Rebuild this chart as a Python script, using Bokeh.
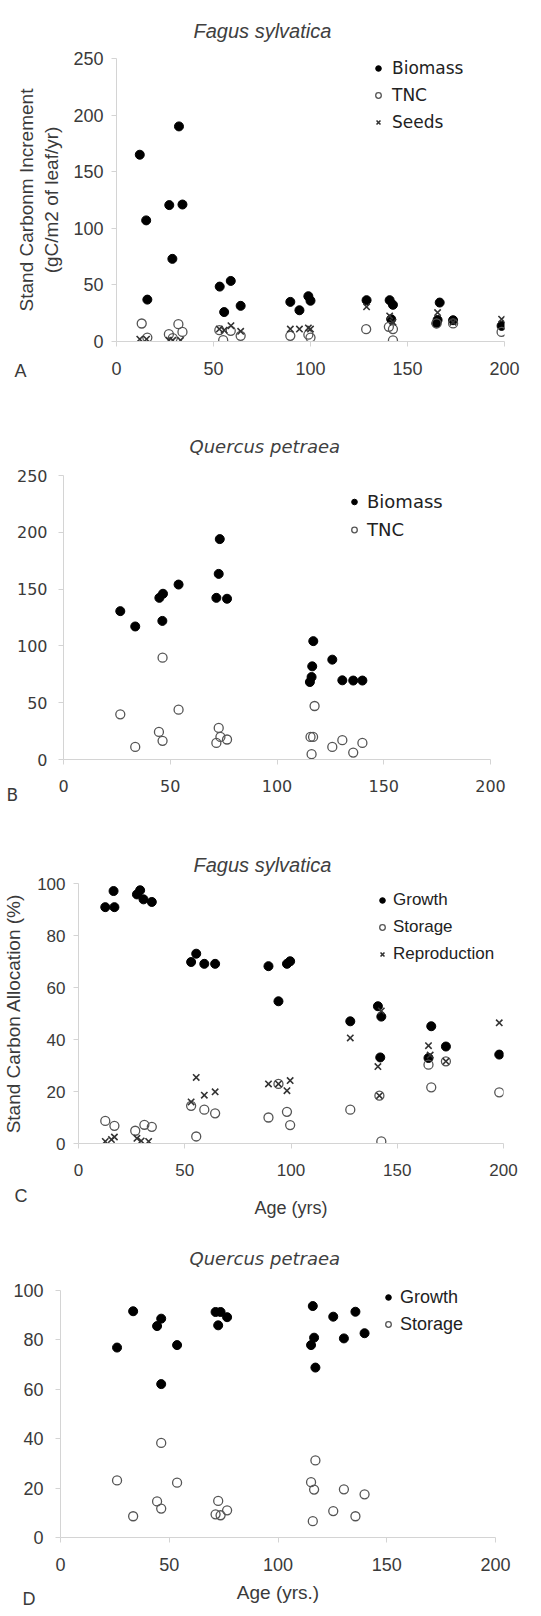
from bokeh.plotting import figure
from bokeh.models import Range1d, FixedTicker, Legend, LegendItem, Title
from bokeh.embed import file_html
from bokeh.resources import INLINE

# ---------------- DATA ----------------
# Panel A: Fagus sylvatica, stand carbon increment (gC/m2 of leaf/yr)
a_bio_age = [12, 15.3, 15.9, 27.2, 28.8, 32.2, 34, 53.2, 55.5, 58.9, 64, 89.6, 94.3, 98.9, 100,
             128.9, 140.8, 142.5, 141.6, 164.9, 165.5, 166.6, 173.5, 198.5]
a_bio_val = [165, 107, 37, 120.5, 73, 190, 121, 48.5, 26, 53.5, 31.5, 35, 27.6, 40, 36,
             36.5, 36.5, 32.4, 19.7, 16, 19, 34.4, 18.8, 13.8]
a_tnc_age = [13, 15.9, 27, 29, 31.9, 34, 53, 55, 58.9, 64, 89.6, 98.9, 100, 128.7, 140.4,
             142.5, 142.5, 165, 173.5, 198.5]
a_tnc_val = [15.9, 3.5, 6.5, 3, 15.3, 8.5, 10, 1.2, 9.4, 5, 5, 6, 3.5, 10.9, 13,
             11, 1, 16, 16, 8.5]
a_seed_age = [12, 15.5, 27, 29, 33, 53, 55.5, 59, 64, 89.6, 94.3, 98.9, 100, 128.9, 140.8,
              142.5, 165.5, 173.5, 198.5]
a_seed_val = [2, 2, 1, 1, 1, 11, 10, 14, 9, 11, 11, 12, 11, 30.6, 22.6,
              17, 25.6, 17, 19.7]

# Panel B: Quercus petraea, stand carbon increment
b_bio_age = [26.6, 33.6, 44.9, 46.6, 46.3, 53.9, 73.2, 72.7, 71.6, 76.6, 117, 116.5, 116.2,
             115.4, 125.9, 130.6, 135.7, 140]
b_bio_val = [130.6, 117.1, 142.3, 145.9, 122, 154, 194, 163.4, 142.3, 141.5, 104.2, 82, 72.6,
             68.2, 87.9, 69.7, 69.5, 69.5]
b_tnc_age = [26.6, 33.6, 44.7, 46.4, 46.4, 53.9, 72.7, 71.6, 73.5, 76.6, 115.7, 116.9, 117.6,
             116.2, 125.9, 130.6, 135.7, 140]
b_tnc_val = [39.8, 11.1, 24.3, 89.6, 16.4, 43.9, 27.8, 14.6, 19.9, 17.6, 19.9, 19.9, 47.1,
             4.7, 11.1, 17, 6.1, 14.6]

# Panel C: Fagus sylvatica, stand carbon allocation (%)
c_gro_age = [12.6, 16.9, 16.5, 27.5, 29, 30.6, 34.5, 53, 55.4, 59.2, 64.3, 89.4, 94.1, 98.1,
             99.6, 127.9, 140.9, 142.5, 142, 164.7, 166, 172.9, 198]
c_gro_val = [90.9, 90.9, 97.1, 95.8, 97.4, 93.9, 92.9, 69.8, 73, 69.1, 69.1, 68.2, 54.7, 69.1,
             70.1, 47, 52.8, 48.8, 33.1, 32.9, 45.1, 37.3, 34.2]
c_sto_age = [12.6, 16.9, 26.7, 31, 34.5, 53, 55.4, 59.2, 64.3, 89.4, 94.1, 98.1, 99.6, 127.9,
             141.6, 142.5, 164.7, 166, 172.9, 198]
c_sto_val = [8.7, 6.8, 4.9, 7.2, 6.4, 14.5, 2.7, 13, 11.6, 10, 22.9, 12.2, 7.1, 13,
             18.4, 0.8, 30.3, 21.6, 31.6, 19.7]
c_rep_age = [12.6, 15.5, 16.9, 27.5, 29.5, 33, 53, 55.4, 59.2, 64.3, 89.4, 94.1, 98.1, 99.6,
             127.9, 140.9, 141.6, 142.5, 164.7, 165.5, 172.9, 198]
c_rep_val = [0.8, 1.5, 2.5, 2, 1, 0.8, 16, 25.4, 18.6, 19.9, 22.9, 22.9, 20.3, 24.2,
             40.6, 29.6, 18.4, 51, 37.6, 34, 31.6, 46.4]

# Panel D: Quercus petraea, stand carbon allocation (%)
d_gro_age = [26, 33.4, 44.4, 46.3, 46.3, 53.6, 71.3, 73.6, 72.5, 76.6, 116, 116.6, 115.2,
             117.2, 125.4, 130.3, 135.6, 139.8]
d_gro_val = [76.9, 91.6, 85.6, 88.6, 62.1, 77.9, 91.3, 91.3, 85.9, 89.2, 93.7, 80.9, 77.9,
             68.8, 89.4, 80.6, 91.4, 82.7]
d_sto_age = [26, 33.4, 44.4, 46.3, 46.3, 53.6, 72.5, 71.3, 73.6, 76.6, 115.2, 116.6, 117.2,
             116, 125.4, 130.3, 135.6, 139.8]
d_sto_val = [23.1, 8.6, 14.6, 38.3, 11.7, 22.2, 14.8, 9.4, 9, 11, 22.4, 19.4, 31.2,
             6.6, 10.7, 19.5, 8.6, 17.5]

x_ticks = [0, 50, 100, 150, 200]
y_ticks_inc = [0, 50, 100, 150, 200, 250]
y_ticks_pct = [0, 20, 40, 60, 80, 100]

# ---------------- LAYOUT ----------------
W = 541
SANS = "Liberation Sans"
DV = "DejaVu Sans"
TXT = "#3a3a3a"
AX = "#d4d4d4"


def make_panel(g):
    p = figure(width=W, height=g["h"], x_range=Range1d(0, 200), y_range=Range1d(0, g["ymax"]),
               output_backend="svg", toolbar_location=None,
               min_border_left=g["fx"], min_border_right=W - g["fx"] - g["fw"],
               min_border_top=g["fy"] - g["top"],
               min_border_bottom=g["top"] + g["h"] - (g["fy"] + g["fh"]))
    p.outline_line_color = None
    p.xgrid.visible = False
    p.ygrid.visible = False
    p.background_fill_color = "white"
    p.border_fill_color = "white"
    for ax, ticks, st in ((p.xaxis[0], x_ticks, g["xst"]), (p.yaxis[0], g["yticks"], g["yst"])):
        ax.ticker = FixedTicker(ticks=ticks)
        ax.minor_tick_line_color = None
        ax.axis_line_color = AX
        ax.major_tick_line_color = AX
        ax.major_tick_out = 5
        ax.major_tick_in = 0
        ax.major_label_text_font = g["tfont"]
        ax.major_label_text_font_size = g["tsize"]
        ax.major_label_text_color = TXT
        ax.major_label_standoff = st
        ax.axis_label_text_font = SANS
        ax.axis_label_text_font_style = "normal"
        ax.axis_label_text_color = TXT
    return p


def add_title(p, text, font, size, offset, standoff):
    p.add_layout(Title(text=text, align="left", offset=offset, standoff=standoff,
                       text_font=font, text_font_size=size, text_font_style="italic",
                       text_color="#404040"), "above")


def add_letter(p, text, font, size, offset, standoff):
    p.add_layout(Title(text=text, align="left", vertical_align="top", offset=offset,
                       standoff=standoff, text_font=font, text_font_size=size,
                       text_font_style="normal", text_color=TXT), "below")


def add_legend(p, g, items, gx, lx, ry, pitch, font, size):
    gw, gh = 14, pitch - 3
    box_left = gx - gw / 2
    box_top = ry - gh / 2
    n = len(items)
    box_h = n * gh + (n - 1) * 3
    leg = Legend(items=[LegendItem(label=l, renderers=[r]) for l, r in items],
                 location=(box_left - g["fx"], g["fy"] + g["fh"] - (box_top + box_h)),
                 padding=0, margin=0, spacing=3, glyph_width=gw, glyph_height=gh,
                 label_height=gh, label_standoff=int(round(lx - (box_left + gw))),
                 label_text_font=font, label_text_font_size=size, label_text_color="#222222",
                 border_line_color=None, background_fill_alpha=0)
    p.add_layout(leg)


def filled(p, xs, ys):
    return p.scatter(xs, ys, marker="circle", size=9, fill_color="black", line_color="black")


def hollow(p, xs, ys):
    return p.scatter(xs, ys, marker="circle", size=9, fill_color=None, line_color="#555555",
                     line_width=1.3)


def cross(p, xs, ys):
    return p.scatter(xs, ys, marker="x", size=9, line_color="#333333", line_width=1.6)


# Panel A
gA = dict(top=0, h=400, fx=116, fy=57, fw=388, fh=284, ymax=250, yticks=y_ticks_inc,
          tfont=SANS, tsize="18px", xst=15, yst=8)
pA = make_panel(gA)
pA.yaxis[0].axis_label = "Stand Carbonm Increment\n(gC/m2 of leaf/yr)"
pA.yaxis[0].axis_label_text_font_size = "19px"
pA.yaxis[0].axis_label_standoff = 8
rA1 = filled(pA, a_bio_age, a_bio_val)
rA2 = hollow(pA, a_tnc_age, a_tnc_val)
rA3 = cross(pA, a_seed_age, a_seed_val)
add_legend(pA, gA, [("Biomass", rA1), ("TNC", rA2), ("Seeds", rA3)], 378, 392, 68, 27, DV, "17px")
add_title(pA, "Fagus sylvatica", SANS, "20px", 77, 34)
add_letter(pA, "A", SANS, "18px", -102, -34)

# Panel B
gB = dict(top=400, h=410, fx=63, fy=475, fw=427, fh=284, ymax=250, yticks=y_ticks_inc,
          tfont=DV, tsize="16px", xst=15, yst=11)
pB = make_panel(gB)
rB1 = filled(pB, b_bio_age, b_bio_val)
rB2 = hollow(pB, b_tnc_age, b_tnc_val)
add_legend(pB, gB, [("Biomass", rB1), ("TNC", rB2)], 354, 367, 501.7, 28, DV, "18px")
add_title(pB, "Quercus petraea", DV, "18px", 126, 37)
add_letter(pB, "B", DV, "17px", -57, -20)

# Panel C
gC = dict(top=810, h=414, fx=78, fy=883, fw=425, fh=260, ymax=100, yticks=y_ticks_pct,
          tfont=SANS, tsize="17px", xst=15, yst=8)
pC = make_panel(gC)
pC.yaxis[0].axis_label = "Stand Carbon Allocation (%)"
pC.yaxis[0].axis_label_text_font_size = "19px"
pC.yaxis[0].axis_label_standoff = 10
pC.xaxis[0].axis_label = "Age (yrs)"
pC.xaxis[0].axis_label_text_font_size = "18px"
pC.xaxis[0].axis_label_standoff = 19
rC1 = filled(pC, c_gro_age, c_gro_val)
rC2 = hollow(pC, c_sto_age, c_sto_val)
rC3 = cross(pC, c_rep_age, c_rep_val)
add_legend(pC, gC, [("Growth", rC1), ("Storage", rC2), ("Reproduction", rC3)],
           382, 393, 900, 27, SANS, "17px")
add_title(pC, "Fagus sylvatica", SANS, "20px", 115, 15)
add_letter(pC, "C", SANS, "18px", -64, -70)

# Panel D
gD = dict(top=1224, h=391, fx=60, fy=1289, fw=435, fh=248, ymax=100, yticks=y_ticks_pct,
          tfont=SANS, tsize="18px", xst=15, yst=12)
pD = make_panel(gD)
pD.xaxis[0].axis_label = "Age (yrs.)"
pD.xaxis[0].axis_label_text_font_size = "19px"
pD.xaxis[0].axis_label_standoff = 8
rD1 = filled(pD, d_gro_age, d_gro_val)
rD2 = hollow(pD, d_sto_age, d_sto_val)
add_legend(pD, gD, [("Growth", rD1), ("Storage", rD2)], 388, 400, 1297.3, 27, SANS, "18px")
add_title(pD, "Quercus petraea", DV, "18px", 129, 43)
add_letter(pD, "D", SANS, "18px", -38, -34)

# separate roots, stacked in page order (no cross-panel frame alignment)
open("out.html", "w").write(file_html([pA, pB, pC, pD], INLINE))
